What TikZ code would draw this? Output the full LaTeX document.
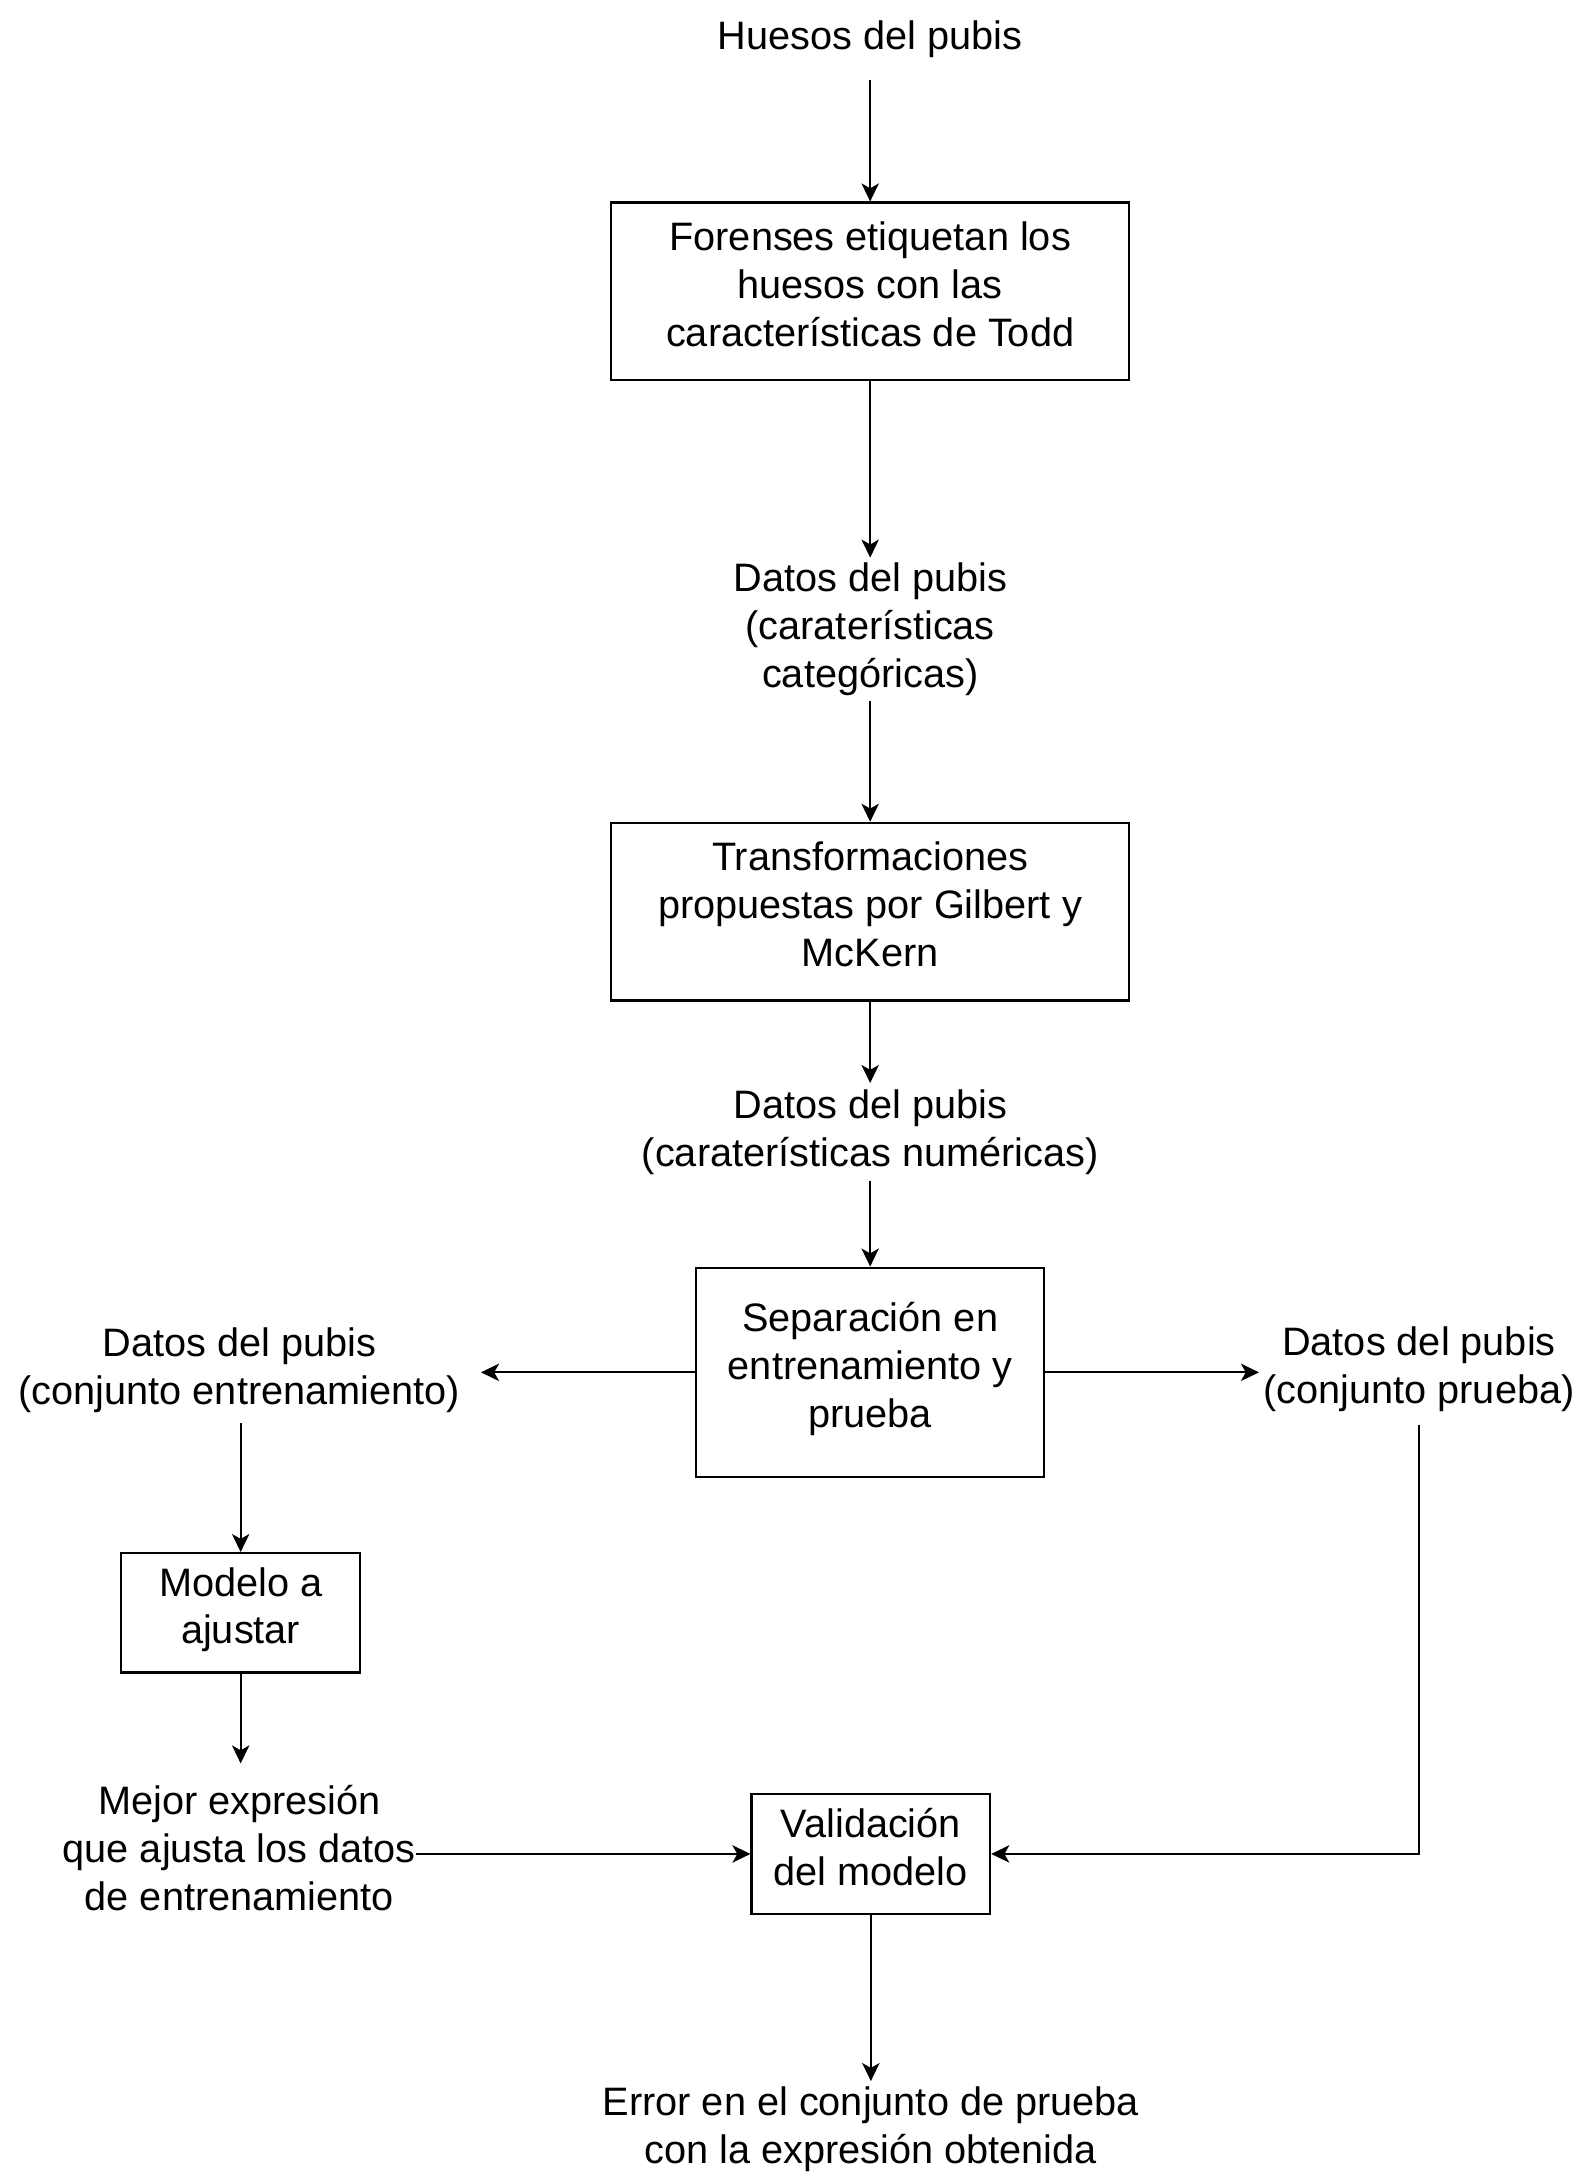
\documentclass[tikz,border=0pt]{standalone}
\usepackage{fontspec}
\setmainfont{Liberation Sans}
\usetikzlibrary{arrows.meta}
\begin{document}
\begin{tikzpicture}[x=1.0025pt,y=-1.0045pt,
  every node/.style={font=\fontsize{28.6}{34.5}\selectfont, align=center, inner sep=0pt},
  box/.style={draw, line width=1.5pt, execute at begin node=\strut, execute at end node=\strut},
  lbl/.style={},
  conn/.style={line width=1.5pt, -{Stealth[length=13pt,width=12.5pt,inset=3.5pt]}}]
\useasboundingbox (0pt,0pt) rectangle (1140pt,-1572.4pt);

\node[lbl, minimum height=58] (huesos) at (625.5,28) {Huesos del pubis};
\node[box, minimum width=373, minimum height=128] (b1) at (625.5,209)
  {Forenses etiquetan los\\huesos con las\\características de Todd};
\node[lbl, minimum height=103] (cat) at (625.5,451.5)
  {Datos del pubis\\(caraterísticas\\categóricas)};
\node[box, minimum width=373, minimum height=128] (b2) at (625.5,654)
  {Transformaciones\\propuestas por Gilbert y\\McKern};
\node[lbl, minimum height=70] (num) at (625.5,812)
  {Datos del pubis\\(caraterísticas numéricas)};
\node[box, minimum width=251, minimum height=151] (b3) at (625.5,984.5)
  {Separación en\\entrenamiento y\\prueba};
\node[lbl, minimum height=76, inner xsep=15pt] (train) at (172,983)
  {Datos del pubis\\(conjunto entrenamiento)};
\node[lbl, minimum height=80, inner xsep=3pt] (test) at (1020,982)
  {Datos del pubis\\(conjunto prueba)};
\node[box, minimum width=172, minimum height=86] (b4) at (173,1157)
  {Modelo a\\ajustar};
\node[lbl, minimum height=122] (best) at (172,1326)
  {Mejor expresión\\que ajusta los datos\\de entrenamiento};
\node[box, minimum width=172, minimum height=86] (b5) at (626,1330)
  {Validación\\del modelo};
\node[lbl, minimum height=69] (err) at (626,1527.5)
  {Error en el conjunto de prueba\\con la expresión obtenida};

\draw[conn] (huesos) -- (b1);
\draw[conn] (b1) -- (cat);
\draw[conn] (cat) -- (b2);
\draw[conn] (b2) -- (num);
\draw[conn] (num) -- (b3);
\draw[conn] (b3.west) -- (b3.west -| train.east);
\draw[conn] (b3.east) -- (b3.east -| test.west);
\draw[conn] (train.south -| b4.north) -- (b4.north);
\draw[conn] (b4) -- (best.north -| b4.south);
\draw[conn] (best.east |- b5.west) -- (b5.west);
\draw[conn] (test.south) |- (b5.east);
\draw[conn] (b5) -- (err);
\end{tikzpicture}
\end{document}
